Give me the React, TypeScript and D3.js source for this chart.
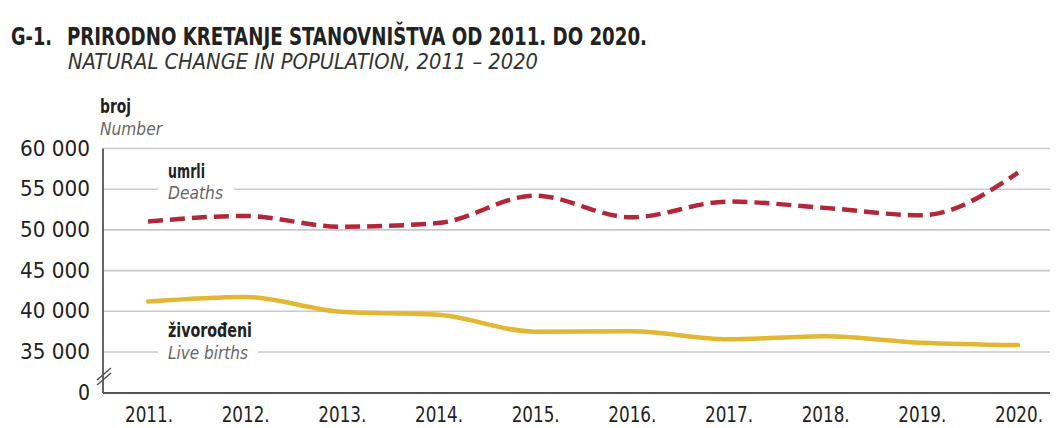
import React from "react";
import * as d3 from "d3";

const years = ["2011.", "2012.", "2013.", "2014.", "2015.", "2016.", "2017.", "2018.", "2019.", "2020."];
const deaths = [51019, 51710, 50386, 50839, 54205, 51542, 53477, 52706, 51794, 57023];
const births = [41197, 41771, 39939, 39566, 37503, 37537, 36556, 36945, 36135, 35845];
const yTicks = [35000, 40000, 45000, 50000, 55000, 60000];
const fmt = (v: number) => d3.format(",")(v).replace(/,/g, " ");

const FONT = "'Liberation Sans Narrow', 'DejaVu Sans Condensed', 'Roboto Condensed', 'Arial Narrow', sans-serif";

export default function App() {
  const W = 1056, H = 428;
  const x = d3.scalePoint<string>().domain(years).range([148, 1018]);
  const y = d3.scaleLinear().domain([35000, 60000]).range([352, 148.5]);
  const y0 = 393;
  const axisX = 103;
  const line = d3.line<number>().x((_, i) => x(years[i]) as number).y((d) => y(d)).curve(d3.curveMonotoneX);
  const adj = "spacingAndGlyphs";

  return (
    <svg width={W} height={H} style={{ position: "absolute", left: 0, top: 0, background: "#fff" }} fontFamily={FONT}>
      <rect width={W} height={H} fill="#fff" />
      <text x={11} y={45} fontSize={24} fontWeight="bold" fill="#222" textLength={41} lengthAdjust={adj}>G-1.</text>
      <text x={67} y={45} fontSize={24} fontWeight="bold" fill="#222" textLength={580} lengthAdjust={adj}>PRIRODNO KRETANJE STANOVNIŠTVA OD 2011. DO 2020.</text>
      <text x={68} y={69} fontSize={22} fontStyle="italic" fill="#333" textLength={470} lengthAdjust={adj}>NATURAL CHANGE IN POPULATION, 2011 – 2020</text>

      <text x={100} y={113} fontSize={19} fontWeight="bold" fill="#222" textLength={31} lengthAdjust={adj}>broj</text>
      <text x={100} y={135} fontSize={18} fontStyle="italic" fill="#666" textLength={62} lengthAdjust={adj}>Number</text>

      {yTicks.map((t) => (
        <g key={t}>
          <line x1={axisX} x2={1050} y1={y(t)} y2={y(t)} stroke="#c9c9c9" strokeWidth={1.6} />
          <text x={90} y={y(t) + 7} fontSize={21} textAnchor="end" fill="#222" textLength={70} lengthAdjust={adj}>{fmt(t)}</text>
        </g>
      ))}
      <text x={90} y={y0 + 7} fontSize={21} textAnchor="end" fill="#222">0</text>

      {/* label backgrounds interrupting gridlines */}
      <rect x={158} y={178} width={76} height={24} fill="#fff" />
      <rect x={158} y={340} width={100} height={24} fill="#fff" />

      <line x1={axisX} x2={axisX} y1={148.5} y2={y0} stroke="#555" strokeWidth={1.8} />
      <line x1={axisX} x2={1050} y1={y0} y2={y0} stroke="#555" strokeWidth={2.2} />
      <g stroke="#555" strokeWidth={1.6}>
        <line x1={97} x2={111} y1={380} y2={368} />
        <line x1={97} x2={111} y1={385} y2={373} />
      </g>

      <path d={line(births) || ""} fill="none" stroke="#e3b733" strokeWidth={4.5} strokeLinecap="round" />
      <path d={line(deaths) || ""} fill="none" stroke="#b0283a" strokeWidth={4.5} strokeDasharray="15 7" />

      <text x={168} y={178} fontSize={19} fontWeight="bold" fill="#222" textLength={37} lengthAdjust={adj}>umrli</text>
      <text x={168} y={199} fontSize={18} fontStyle="italic" fill="#666" textLength={55} lengthAdjust={adj}>Deaths</text>
      <text x={168} y={337} fontSize={19} fontWeight="bold" fill="#222" textLength={84} lengthAdjust={adj}>živorođeni</text>
      <text x={168} y={359} fontSize={18} fontStyle="italic" fill="#666" textLength={80} lengthAdjust={adj}>Live births</text>

      {years.map((yr) => (
        <text key={yr} x={(x(yr) as number) + 1} y={422} fontSize={21} textAnchor="middle" fill="#222" textLength={48} lengthAdjust={adj}>{yr}</text>
      ))}
    </svg>
  );
}
